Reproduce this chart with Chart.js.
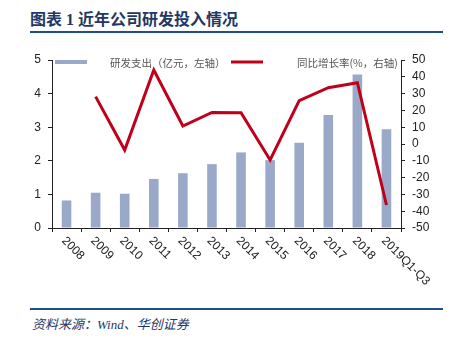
<!DOCTYPE html>
<html>
<head>
<meta charset="utf-8">
<script src="https://cdn.jsdelivr.net/npm/chart.js@4"></script>
<style>
  html, body { margin: 0; padding: 0; background: #fff; width: 456px; height: 340px; overflow: hidden; }
  #title { position: absolute; left: 30px; top: 6px; font: bold 16px "Liberation Serif", "Noto Sans CJK SC"; color: #1f3864; white-space: nowrap; }
  .rule { position: absolute; left: 30px; width: 413px; height: 2px; background: #1f4e8c; }
  #source { position: absolute; left: 32px; top: 314px; font: italic 13px "Liberation Serif", "Noto Sans CJK SC"; color: #1f3864; white-space: nowrap; }
  #wrap { position: absolute; left: 0; top: 0; width: 456px; height: 300px; }
</style>
</head>
<body>
<div id="title">图表 1 近年公司研发投入情况</div>
<div class="rule" style="top:31px"></div>
<div id="wrap"><canvas id="chartCanvas"></canvas></div>
<div class="rule" style="top:308px"></div>
<div id="source">资料来源：Wind、华创证券</div>
<script>
// data
const categories = ['2008', '2009', '2010', '2011', '2012', '2013', '2014', '2015', '2016', '2017', '2018', '2019Q1-Q3'];
const spending = [0.82, 1.05, 1.02, 1.46, 1.63, 1.90, 2.25, 2.02, 2.54, 3.36, 4.57, 2.94];
const growth = [null, 28.2, -3.6, 44, 10.7, 18.8, 18.6, -9.5, 25.8, 33.5, 36.5, -36.3];
const barLabel = '研发支出（亿元，左轴）';
const lineLabel = '同比增长率(%，右轴)';

const barColor = '#9ba9c9';
const lineColor = '#c0001a';

// legend sits inside the plot area, drawn by hand
const legendPlugin = {
  id: 'insideLegend',
  afterDraw(chart) {
    const ctx = chart.ctx;
    const top = chart.chartArea.top;
    ctx.save();
    ctx.fillStyle = barColor;
    ctx.fillRect(55, top, 32, 4);
    ctx.strokeStyle = lineColor;
    ctx.lineWidth = 3;
    ctx.beginPath();
    ctx.moveTo(231, top + 2);
    ctx.lineTo(263, top + 2);
    ctx.stroke();
    ctx.fillStyle = '#555';
    ctx.font = '10.5px "Noto Sans CJK SC"';
    ctx.textBaseline = 'middle';
    ctx.fillText(barLabel, 110, top + 3);
    ctx.fillText(lineLabel, 297, top + 3);
    ctx.restore();
  }
};

// x labels slant down to the right, which Chart.js can't do itself
const xLabelPlugin = {
  id: 'slantLabels',
  afterDraw(chart) {
    const ctx = chart.ctx;
    const x = chart.scales.x;
    ctx.save();
    ctx.font = '12px "Liberation Sans"';
    ctx.fillStyle = '#222';
    ctx.textAlign = 'left';
    ctx.textBaseline = 'middle';
    categories.forEach((c, i) => {
      ctx.save();
      ctx.translate(x.getPixelForValue(i) - 3, x.top + 11);
      ctx.rotate(Math.PI / 4);
      ctx.fillText(c, 0, 0);
      ctx.restore();
    });
    ctx.restore();
  }
};

const ctx = document.getElementById('chartCanvas').getContext('2d');
const myChart = new Chart(ctx, {
  data: {
    labels: categories,
    datasets: [
      {
        type: 'line',
        label: lineLabel,
        data: growth,
        yAxisID: 'y1',
        borderColor: lineColor,
        borderWidth: 3,
        pointRadius: 0,
        tension: 0,
        order: 0
      },
      {
        type: 'bar',
        label: barLabel,
        data: spending,
        yAxisID: 'y',
        backgroundColor: barColor,
        barPercentage: 0.33,
        categoryPercentage: 1,
        order: 1
      }
    ]
  },
  options: {
    responsive: true,
    maintainAspectRatio: false,
    animation: false,
    devicePixelRatio: 1,
    layout: { padding: { top: 60, left: 0, right: 0, bottom: 0 } },
    plugins: { legend: { display: false }, tooltip: { enabled: false } },
    scales: {
      x: {
        offset: true,
        grid: { offset: true, drawOnChartArea: false, drawTicks: true, tickLength: 4, color: '#222' },
        border: { color: '#222' },
        ticks: { callback: () => '', padding: 0, autoSkip: false },
        afterFit: s => { s.height = 72; }
      },
      y: {
        position: 'left',
        min: 0, max: 5,
        grid: { drawOnChartArea: false, tickLength: 4, color: '#222' },
        border: { color: '#222' },
        ticks: { stepSize: 1, color: '#222', padding: 7, autoSkip: false, font: { family: 'Liberation Sans', size: 12 } },
        afterFit: s => { s.width = 52; }
      },
      y1: {
        position: 'right',
        min: -50, max: 50,
        grid: { drawOnChartArea: false, tickLength: 4, color: '#222' },
        border: { color: '#222' },
        ticks: { stepSize: 10, color: '#222', padding: 7, autoSkip: false, font: { family: 'Liberation Sans', size: 12 } },
        afterFit: s => { s.width = 55; }
      }
    }
  },
  plugins: [legendPlugin, xLabelPlugin]
});
</script>
</body>
</html>
